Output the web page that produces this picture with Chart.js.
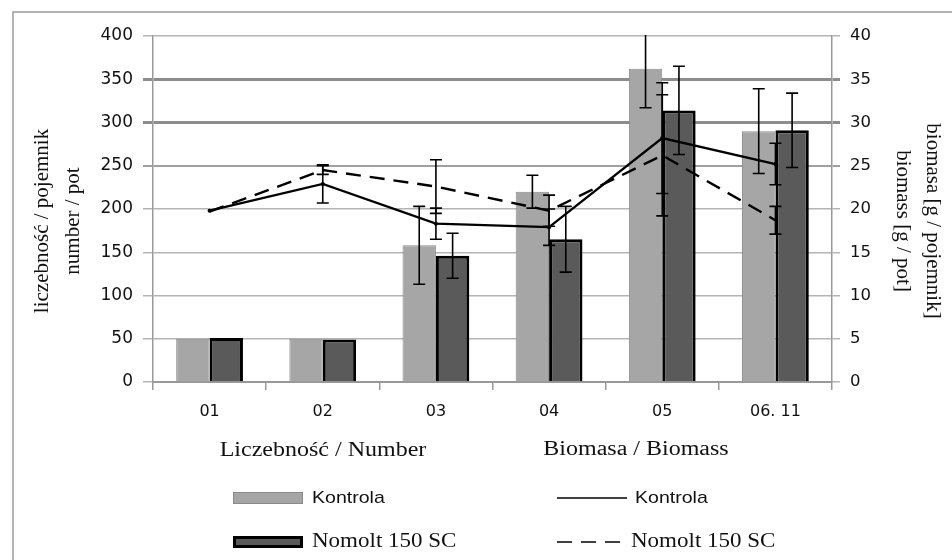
<!DOCTYPE html>
<html>
<head>
<meta charset="utf-8">
<script src="https://cdn.jsdelivr.net/npm/chart.js@4.4.1/dist/chart.umd.min.js"></script>
<style>
    html, body { margin: 0; padding: 0; background: #fff; }
    canvas { display: block; }
</style>
</head>
<body>
<canvas id="chart" width="952" height="560"></canvas>
<script>
// dane
const categories = ['01', '02', '03', '04', '05', '06. 11'];

// liczebność / pojemnik (lewa oś)
const numberKontrola = [50, 50, 158, 220, 362, 290];
const numberNomolt = [51, 49, 146, 165, 314, 291];
const numberKontrolaErr = [0, 0, 45, 19, 45, 49];
const numberNomoltErr = [0, 0, 26, 38, 51, 43];

// biomasa [g / pojemnik] (prawa oś)
const biomassKontrola = [19.8, 22.9, 18.3, 17.9, 28.2, 25.2];
const biomassNomolt = [19.7, 24.5, 22.6, 19.8, 26.2, 18.7];
const biomassKontrolaErr = [0, 2.2, 1.8, 2.1, 6.4, 2.4];
const biomassNomoltErr = [0, 0.5, 3.1, 1.8, 7.0, 1.6];

const leftTicks = [0, 50, 100, 150, 200, 250, 300, 350, 400];
const rightTicks = [0, 5, 10, 15, 20, 25, 30, 35, 40];

const STYLE = {
    serif: "'Liberation Serif', 'Times New Roman', serif",
    sans: "'Liberation Sans', Arial, sans-serif",
    tick: "'DejaVu Sans', Verdana, sans-serif",
    text: '#111111',
    axis: '#999999'
};

// grubość linii siatki - w oryginale 300 i 350 są wyraźnie grubsze
function gridWidth(v) {
    if (v === 300 || v === 350) return 3;
    if (v === 250) return 2;
    return 1.5;
}
function gridColor(v) {
    if (v === 300 || v === 350) return '#8c8c8c';
    if (v === 250) return '#a0a0a0';
    return '#b4b4b4';
}
function rightGridValue(v) {
    return v * 10;
}

// rozciągnięty tekst (oryginał jest poszerzony w poziomie)
function stretchText(ctx, text, x, y, font, sx, align) {
    ctx.save();
    ctx.font = font;
    ctx.fillStyle = STYLE.text;
    ctx.textAlign = align || 'left';
    ctx.textBaseline = 'middle';
    ctx.translate(x, y);
    ctx.scale(sx, 1);
    ctx.fillText(text, 0, 0);
    ctx.restore();
}

function rotatedText(ctx, text, x, y, font, angle) {
    ctx.save();
    ctx.font = font;
    ctx.fillStyle = STYLE.text;
    ctx.textAlign = 'center';
    ctx.textBaseline = 'middle';
    ctx.translate(x, y);
    ctx.rotate(angle);
    ctx.fillText(text, 0, 0);
    ctx.restore();
}

// tło i ramka
const framePlugin = {
    id: 'frame',
    beforeDraw(chart) {
        const ctx = chart.ctx;
        ctx.save();
        ctx.fillStyle = '#ffffff';
        ctx.fillRect(0, 0, chart.width, chart.height);
        ctx.strokeStyle = '#9a9a9a';
        ctx.lineWidth = 1.5;
        ctx.beginPath();
        ctx.moveTo(13, chart.height);
        ctx.lineTo(13, 12);
        ctx.lineTo(chart.width, 12);
        ctx.stroke();
        ctx.restore();
    }
};

// słupki błędów
const errorBarPlugin = {
    id: 'errorBars',
    afterDatasetsDraw(chart) {
        const ctx = chart.ctx;
        const area = chart.chartArea;
        ctx.save();
        ctx.beginPath();
        ctx.rect(area.left, area.top - 1, area.right - area.left, area.bottom - area.top + 1);
        ctx.clip();
        ctx.strokeStyle = '#000';
        ctx.lineWidth = 1.6;
        chart.data.datasets.forEach((ds, di) => {
            if (!ds.errors) return;
            const meta = chart.getDatasetMeta(di);
            const scale = chart.scales[ds.yAxisID];
            meta.data.forEach((el, i) => {
                const e = ds.errors[i];
                if (!e) return;
                const v = ds.data[i];
                const yTop = scale.getPixelForValue(v + e);
                const yBot = scale.getPixelForValue(v - e);
                const x = el.x;
                ctx.beginPath();
                ctx.moveTo(x, yTop);
                ctx.lineTo(x, yBot);
                ctx.moveTo(x - 6, yTop);
                ctx.lineTo(x + 6, yTop);
                ctx.moveTo(x - 6, yBot);
                ctx.lineTo(x + 6, yBot);
                ctx.stroke();
            });
        });
        ctx.restore();
    }
};

// tytuły osi i legenda
const labelsPlugin = {
    id: 'labels',
    afterDraw(chart) {
        const ctx = chart.ctx;
        const area = chart.chartArea;
        const midY = (area.top + area.bottom) / 2 + 12;

        const titleFont = "21px " + STYLE.serif;
        rotatedText(ctx, 'liczebność / pojemnik', area.left - 111, midY, titleFont, -Math.PI / 2);
        rotatedText(ctx, 'number / pot', area.left - 80, midY, titleFont, -Math.PI / 2);
        rotatedText(ctx, 'biomasa [g / pojemnik]', area.right + 101, midY, titleFont, Math.PI / 2);
        rotatedText(ctx, 'biomass [g / pot]', area.right + 71, midY, titleFont, Math.PI / 2);

        // legenda w dwóch kolumnach
        const headFont = "20px " + STYLE.serif;
        const colBar = area.left + 80;
        const colLine = area.left + 404;
        stretchText(ctx, 'Liczebność / Number', area.left + 170, 451, headFont, 1.2, 'center');
        stretchText(ctx, 'Biomasa / Biomass', area.left + 483, 450, headFont, 1.2, 'center');

        const rows = [498, 542];
        const ds = chart.data.datasets;
        const bars = ds.filter(d => d.type !== 'line');
        const lines = ds.filter(d => d.type === 'line');

        bars.forEach((d, i) => {
            const y = rows[i];
            ctx.save();
            ctx.fillStyle = d.backgroundColor;
            ctx.strokeStyle = d.borderColor;
            ctx.lineWidth = d.borderWidth;
            const bw = d.borderWidth;
            ctx.fillRect(colBar, y - 6, 70, 12);
            ctx.strokeRect(colBar + bw / 2, y - 6 + bw / 2, 70 - bw, 12 - bw);
            ctx.restore();
            stretchText(ctx, d.label, colBar + 79, y, d.legendFont, d.legendStretch, 'left');
        });

        lines.forEach((d, i) => {
            const y = rows[i];
            ctx.save();
            ctx.strokeStyle = '#000';
            ctx.lineWidth = 1.5;
            ctx.setLineDash(d.borderDash || []);
            ctx.beginPath();
            ctx.moveTo(colLine, y);
            ctx.lineTo(colLine + 70, y);
            ctx.stroke();
            ctx.restore();
            stretchText(ctx, d.label, colLine + 78 - i * 4, y, d.legendFont, d.legendStretch, 'left');
        });
    }
};

const ctx = document.getElementById('chart').getContext('2d');

new Chart(ctx, {
    type: 'bar',
    data: {
        labels: categories,
        datasets: [
            {
                type: 'line',
                label: 'Kontrola',
                data: biomassKontrola,
                errors: biomassKontrolaErr,
                yAxisID: 'y1',
                borderColor: '#000',
                borderWidth: 2.3,
                pointRadius: 2,
                pointBackgroundColor: '#000',
                pointBorderWidth: 0,
                tension: 0,
                order: 0,
                legendFont: "17px " + STYLE.sans,
                legendStretch: 1.15
            },
            {
                type: 'line',
                label: 'Nomolt 150 SC',
                data: biomassNomolt,
                errors: biomassNomoltErr,
                yAxisID: 'y1',
                borderColor: '#000',
                borderWidth: 2.4,
                borderDash: [15, 9],
                pointRadius: 0,
                tension: 0,
                order: 0,
                legendFont: "20px " + STYLE.serif,
                legendStretch: 1.15
            },
            {
                label: 'Kontrola',
                data: numberKontrola,
                errors: numberKontrolaErr,
                yAxisID: 'y',
                backgroundColor: '#a6a6a6',
                borderColor: '#8a8a8a',
                borderWidth: 1,
                order: 1,
                legendFont: "17px " + STYLE.sans,
                legendStretch: 1.15
            },
            {
                label: 'Nomolt 150 SC',
                data: numberNomolt,
                errors: numberNomoltErr,
                yAxisID: 'y',
                backgroundColor: '#5a5a5a',
                borderColor: '#000000',
                borderWidth: 3,
                order: 1,
                legendFont: "20px " + STYLE.serif,
                legendStretch: 1.15
            }
        ]
    },
    options: {
        responsive: false,
        animation: false,
        devicePixelRatio: 1,
        layout: { padding: { top: 36, left: 0, right: 0, bottom: 0 } },
        datasets: {
            bar: { categoryPercentage: 0.59, barPercentage: 1.0 }
        },
        plugins: {
            legend: { display: false },
            tooltip: { enabled: false },
            title: { display: false }
        },
        scales: {
            x: {
                offset: true,
                grid: {
                    offset: true,
                    drawOnChartArea: false,
                    tickLength: 8,
                    color: STYLE.axis,
                    lineWidth: 1.5
                },
                border: { color: STYLE.axis, width: 2 },
                ticks: {
                    color: STYLE.text,
                    font: { family: STYLE.tick, size: 16 },
                    padding: 12,
                    maxRotation: 0,
                    autoSkip: false
                },
                afterFit: s => { s.height = 178; }
            },
            y: {
                position: 'left',
                min: 0,
                max: 400,
                afterBuildTicks: s => { s.ticks = leftTicks.map(v => ({ value: v })); },
                grid: {
                    tickLength: 10,
                    color: c => gridColor(c.tick.value),
                    lineWidth: c => gridWidth(c.tick.value)
                },
                border: { color: STYLE.axis, width: 1.5 },
                ticks: {
                    color: STYLE.text,
                    font: { family: STYLE.tick, size: 17 },
                    padding: 10
                },
                afterFit: s => { s.width = 153; }
            },
            y1: {
                position: 'right',
                min: 0,
                max: 40,
                afterBuildTicks: s => { s.ticks = rightTicks.map(v => ({ value: v })); },
                grid: {
                    drawOnChartArea: false,
                    tickLength: 8,
                    color: c => gridColor(rightGridValue(c.tick.value)),
                    lineWidth: c => gridWidth(rightGridValue(c.tick.value))
                },
                border: { color: STYLE.axis, width: 1.5 },
                ticks: {
                    color: STYLE.text,
                    font: { family: STYLE.tick, size: 16.5 },
                    padding: 10
                },
                afterFit: s => { s.width = 120; }
            }
        }
    },
    plugins: [framePlugin, errorBarPlugin, labelsPlugin]
});
</script>
</body>
</html>
